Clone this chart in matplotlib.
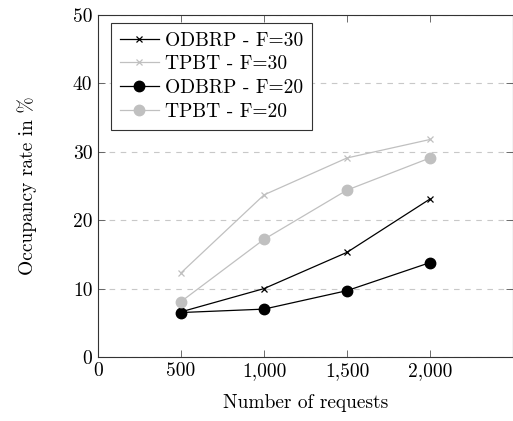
import matplotlib
matplotlib.use("Agg")
import matplotlib.pyplot as plt
from matplotlib.ticker import FuncFormatter

# Occupancy rate (%) vs number of requests
requests = [500, 1000, 1500, 2000]
odbrp_f30 = [6.6, 10.0, 15.3, 23.1]
tpbt_f30 = [12.3, 23.7, 29.1, 31.8]
odbrp_f20 = [6.5, 7.0, 9.7, 13.8]
tpbt_f20 = [8.1, 17.2, 24.4, 29.1]

plt.rcParams['font.family'] = 'cmr10'
plt.rcParams['axes.formatter.use_mathtext'] = True
plt.rcParams['font.size'] = 14

gray = '#c0c0c0'

fig = plt.figure(figsize=(5.13, 4.21), dpi=100)
ax = fig.add_axes([98 / 513, 64 / 421, 415 / 513, 342 / 421])

ax.plot(requests, odbrp_f30, color='black', lw=0.9, marker='x', ms=4.5, mew=0.9, label='ODBRP - F=30')
ax.plot(requests, tpbt_f30, color=gray, lw=0.9, marker='x', ms=4.5, mew=0.9, label='TPBT - F=30')
ax.plot(requests, odbrp_f20, color='black', lw=0.9, marker='o', ms=7.5, label='ODBRP - F=20')
ax.plot(requests, tpbt_f20, color=gray, lw=0.9, marker='o', ms=7.5, label='TPBT - F=20')

ax.set_xlim(0, 2500)
ax.set_ylim(0, 50)
ax.set_xticks([0, 500, 1000, 1500, 2000])
ax.set_yticks([0, 10, 20, 30, 40, 50])
ax.xaxis.set_major_formatter(FuncFormatter(lambda v, p: '{:,}'.format(int(v))))
ax.yaxis.set_major_formatter(FuncFormatter(lambda v, p: '{:d}'.format(int(v))))
ax.tick_params(direction='in', top=True, right=True, length=5, width=0.6, color='#555555', pad=4)
ax.grid(axis='y', linestyle=(0, (5, 5)), color='#c8c8c8', lw=0.8)
for s in ax.spines.values():
    s.set_linewidth(0.8)
    s.set_color('#333333')

ax.set_xlabel('Number of requests', labelpad=10)
ax.set_ylabel('Occupancy rate in %', labelpad=26)

leg = ax.legend(loc='upper left', bbox_to_anchor=(0.032, 0.977), fancybox=False, framealpha=1,
                edgecolor='#333333', handlelength=2.0, handletextpad=0.3, borderpad=0.45,
                labelspacing=0.3, borderaxespad=0)
leg.get_frame().set_linewidth(0.8)

fig.savefig('out.png', dpi=100)
